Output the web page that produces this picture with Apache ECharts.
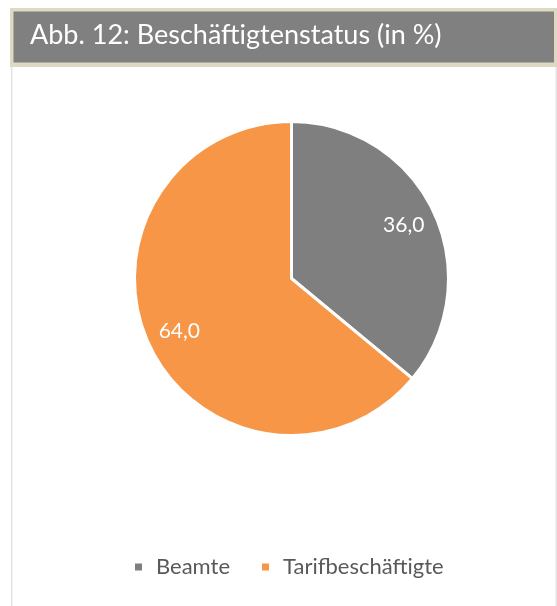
<!DOCTYPE html>
<html><head><meta charset="utf-8">
<script src="https://cdn.jsdelivr.net/npm/echarts@6/dist/echarts.min.js"></script>
<style>html,body{margin:0;padding:0;background:#fff}#c{width:557px;height:606px}</style>
</head><body><div id="c"></div>
<script>
const titleText = 'Abb. 12: Beschäftigtenstatus (in %)';
const categories = ['Beamte', 'Tarifbeschäftigte'];
const values = [36.0, 64.0];
const colors = ['#7F7F7F', '#F79646'];
const FONT = 'Lato';

const chart = echarts.init(document.getElementById('c'), null, {renderer: 'canvas'});
const data = categories.map((n, i) => ({name: n, value: values[i], itemStyle: {color: colors[i]}}));
const fmt = p => p.value.toFixed(1).replace('.', ',');
chart.setOption({
  backgroundColor: '#fff',
  animation: false,
  graphic: [
    {type: 'rect', shape: {x: 11, y: 60, width: 1.5, height: 560}, style: {fill: '#E3E3E3'}, z: 1},
    {type: 'rect', shape: {x: 555.5, y: 60, width: 1.5, height: 560}, style: {fill: '#E3E3E3'}, z: 1},
    {type: 'rect', shape: {x: 10, y: 8, width: 547, height: 59}, style: {fill: '#DDD9C3'}, z: 2},
    {type: 'rect', shape: {x: 13.5, y: 11.5, width: 540.5, height: 51}, style: {fill: '#808080'}, z: 3},
    {type: 'text', left: 30, top: 22, z: 4,
     style: {text: titleText, fill: '#fff', font: '27px ' + FONT}}
  ],
  legend: {
    left: 133, top: 556, padding: 0,
    icon: 'rect', itemWidth: 9, itemHeight: 9, itemGap: 30,
    textStyle: {color: '#595959', fontSize: 22, fontFamily: FONT, padding: [0, 0, 0, 8]},
    data: categories
  },
  series: [
    {
      type: 'pie', center: [291.5, 278.5], radius: [0, 157],
      startAngle: 90, clockwise: true,
      itemStyle: {borderColor: '#fff', borderWidth: 3},
      label: {show: false}, labelLine: {show: false},
      emphasis: {disabled: true},
      data: data
    },
    {
      type: 'pie', center: [291.5, 278.5], radius: [85, 157],
      startAngle: 90, clockwise: true, silent: true,
      itemStyle: {color: 'transparent', borderWidth: 0},
      label: {show: true, position: 'inside', formatter: fmt, color: '#fff', fontSize: 21, fontFamily: FONT},
      labelLine: {show: false},
      emphasis: {disabled: true},
      data: categories.map((n, i) => ({name: n, value: values[i], itemStyle: {color: 'transparent'}}))
    }
  ]
});
</script></body></html>
